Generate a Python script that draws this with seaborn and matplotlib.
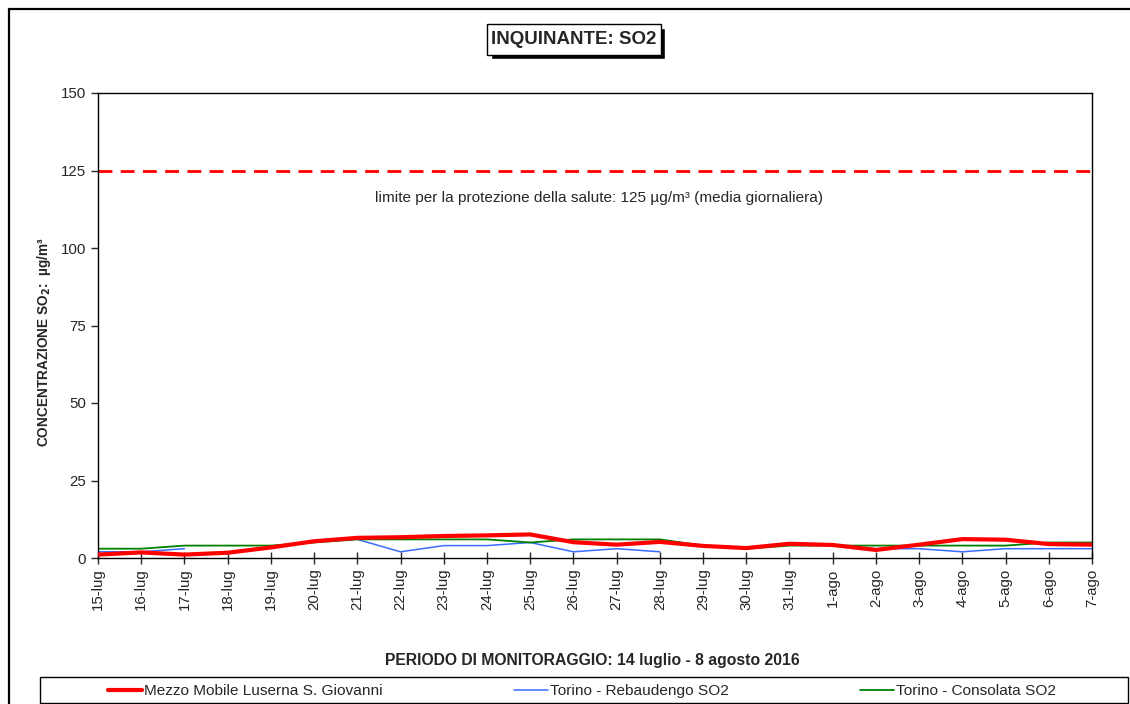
import matplotlib
matplotlib.use('Agg')
import matplotlib.pyplot as plt
import seaborn as sns
import numpy as np
import pandas as pd
from matplotlib.patches import Rectangle
from matplotlib.lines import Line2D

sns.set_style('white')
plt.rcParams['font.family'] = ['Liberation Sans', 'DejaVu Sans']

giorni = ['15-lug', '16-lug', '17-lug', '18-lug', '19-lug', '20-lug', '21-lug', '22-lug',
          '23-lug', '24-lug', '25-lug', '26-lug', '27-lug', '28-lug', '29-lug', '30-lug',
          '31-lug', '1-ago', '2-ago', '3-ago', '4-ago', '5-ago', '6-ago', '7-ago']

luserna = [1.1, 1.8, 1.1, 1.7, 3.4, 5.4, 6.5, 6.7, 7.1, 7.3, 7.6, 5.1,
           4.3, 5.2, 3.9, 3.2, 4.6, 4.2, 2.6, 4.3, 6.1, 5.9, 4.5, 4.3]
rebaudengo = [2, 2, 3, np.nan, np.nan, np.nan, 6, 2, 4, 4, 5, 2,
              3, 2, np.nan, np.nan, np.nan, 4, 3, 3, 2, 3, 3, 3]
consolata = [3, 3, 4, 4, 4, 5, 6, 6, 6, 6, 5, 6,
             6, 6, 4, 3, 4, 4, 4, 4, 4, 4, 5, 5]

serie = ['Mezzo Mobile Luserna S. Giovanni', 'Torino - Rebaudengo SO2', 'Torino - Consolata SO2']
colori = ['#ff0000', '#3a6cff', '#008000']
spessori = [3.0, 1.1, 1.3]
limite = 125

W, H = 1130, 704
fig = plt.figure(figsize=(W / 100, H / 100), dpi=100)
ax = fig.add_axes([98 / W, 1 - 558 / H, (1092 - 98) / W, (558 - 93) / H])

# draw each series, split where values are missing so the line breaks
for nome, valori, col, lw in zip(serie, [luserna, rebaudengo, consolata], colori, spessori):
    df = pd.DataFrame({'x': np.arange(len(giorni)), 'y': valori})
    df['seg'] = df['y'].isna().cumsum()
    df = df.dropna()
    sns.lineplot(data=df, x='x', y='y', units='seg', estimator=None, color=col,
                 linewidth=lw, ax=ax, zorder=3 if col == '#ff0000' else 2)

ax.axhline(limite, color='#ff0000', linestyle=(0, (5, 3)), linewidth=2)
ax.text(11.6, 116, 'limite per la protezione della salute: 125 µg/m³ (media giornaliera)',
        fontsize=11.1, ha='center', va='center')

ax.set_xlim(0, len(giorni) - 1)
ax.set_ylim(0, 150)
ax.set_yticks(range(0, 151, 25))
ax.set_xticks(range(len(giorni)))
ax.set_xticklabels(giorni, rotation=90, fontsize=10.8)
ax.tick_params(axis='y', labelsize=10.8, direction='out', length=5, width=1, left=True)
ax.tick_params(axis='x', direction='inout', length=8, width=1, bottom=True)
for s in ax.spines.values():
    s.set_color('black')
    s.set_linewidth(1)

ax.set_xlabel('PERIODO DI MONITORAGGIO: 14 luglio - 8 agosto 2016', fontsize=11.3,
              fontweight='bold')
ax.xaxis.set_label_coords((592 - 98) / (1092 - 98), -(653 - 558) / (558 - 93))
ax.set_ylabel('CONCENTRAZIONE SO$_\\mathbf{2}$:  µg/m³', fontsize=9.8, fontweight='bold')
ax.yaxis.set_label_coords(-(98 - 53) / (1092 - 98), (558 - 342) / (558 - 93))

# title box with shadow
fig.patches.append(Rectangle((491 / W, 1 - 59 / H), (661 - 487) / W, 31 / H,
                             transform=fig.transFigure, facecolor='black', zorder=1))
fig.patches.append(Rectangle((487 / W, 1 - 55 / H), (661 - 487) / W, 31 / H,
                             transform=fig.transFigure, facecolor='white', edgecolor='black',
                             linewidth=1, zorder=2))
fig.text(574 / W, 1 - 40 / H, 'INQUINANTE: SO2', fontsize=13.5, fontweight='bold',
         ha='center', va='center', zorder=3)

# outer frame
fig.add_artist(Line2D([9 / W, 9 / W], [0, 1 - 9 / H], color='black', linewidth=1.6,
                      transform=fig.transFigure))
fig.add_artist(Line2D([9 / W, 1], [1 - 9 / H, 1 - 9 / H], color='black', linewidth=1.6,
                      transform=fig.transFigure))

# legend box
fig.patches.append(Rectangle((40 / W, 1 - 703 / H), (1128 - 40) / W, (703 - 677) / H,
                             transform=fig.transFigure, facecolor='white', edgecolor='black',
                             linewidth=1))
handles = [Line2D([], [], color=c, linewidth=lw) for c, lw in zip(colori, spessori)]
leg = fig.legend(handles, serie, loc='center', ncol=3,
                 bbox_to_anchor=(582 / W, 1 - 691 / H),
                 fontsize=11.1, frameon=False, handlelength=2.2,
                 handletextpad=0.13, columnspacing=8.5, borderpad=0, borderaxespad=0)

fig.savefig('out.png', dpi=100)
